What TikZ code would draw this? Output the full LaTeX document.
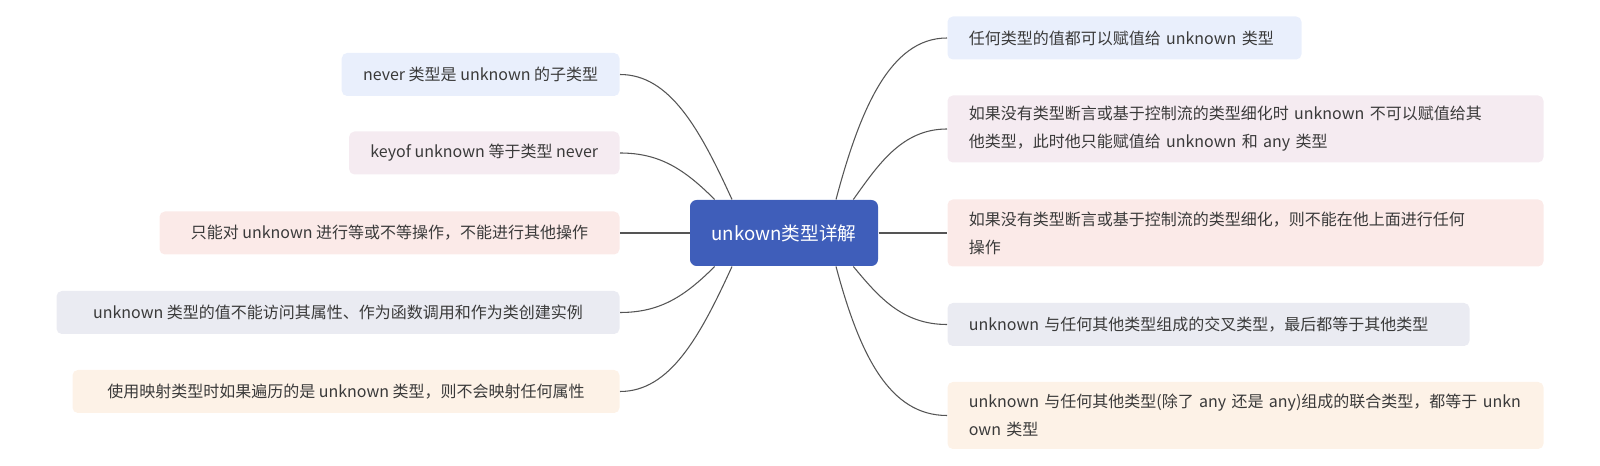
\documentclass[tikz,border=0pt]{standalone}
\usepackage{fontspec}
\newfontfamily\cjk{Noto Sans CJK SC}
\definecolor{rootblue}{HTML}{3F5EBA}
\definecolor{boxblue}{HTML}{E9EFFC}
\definecolor{boxpink}{HTML}{F5EBF1}
\definecolor{boxrose}{HTML}{FBEAE8}
\definecolor{boxgrey}{HTML}{EAEBF2}
\definecolor{boxpeach}{HTML}{FDF2E7}
\definecolor{txtgrey}{HTML}{3A3A3A}
\definecolor{linegrey}{HTML}{555555}
\tikzset{every picture/.style={line width=0.75pt}}
\tikzset{
  topic/.style={rounded corners=4pt, inner xsep=16pt, inner ysep=0pt, text=txtgrey,
    font=\cjk\fontsize{12pt}{21pt}\selectfont, minimum height=32.25pt},
  lefttopic/.style={topic, anchor=east, align=right},
  righttopic/.style={topic, anchor=west, align=left},
  tall/.style={minimum height=50.25pt},
  branch/.style={draw=linegrey, line width=0.8pt},
}

\begin{document}
\begin{tikzpicture}[x=0.75pt,y=0.75pt,yscale=-1,xscale=1]
\useasboundingbox (0,0) rectangle (1600,466);
% Central Topic
\draw (784,233) node [fill=rootblue, rounded corners=5pt, minimum width=141pt, minimum height=49.5pt, text=white, font=\cjk\fontsize{14pt}{16pt}\selectfont] (root) {unkown类型详解};
% Text Node
\draw (620,74.5) node [lefttopic, fill=boxblue, minimum width=207pt] (nev) {never 类型是 unknown 的子类型};
% Text Node
\draw (620,153) node [lefttopic, fill=boxpink, minimum width=193.5pt] (keyof) {keyof unknown 等于类型 never};
% Text Node
\draw (620,233) node [lefttopic, fill=boxrose, minimum width=345pt] (eq) {只能对 unknown 进行等或不等操作，不能进行其他操作};
% Text Node
\draw (620,312.5) node [lefttopic, fill=boxgrey, minimum width=422.25pt] (prop) {unknown 类型的值不能访问其属性、作为函数调用和作为类创建实例};
% Text Node
\draw (620,391.5) node [lefttopic, fill=boxpeach, minimum width=410.25pt] (mapped) {使用映射类型时如果遍历的是 unknown 类型，则不会映射任何属性};
% Text Node
\draw (947,38) node [righttopic, fill=boxblue, text width=233.5pt] (any) {\mbox{任何类型的值都可以赋值给 unknown 类型}};
% Text Node
\draw (947,129) node [righttopic, tall, fill=boxpink, text width=415pt] (assign) {\mbox{如果没有类型断言或基于控制流的类型细化时 unknown 不可以赋值给其}\\\mbox{他类型，此时他只能赋值给 unknown 和 any 类型}};
% Text Node
\draw (947,233) node [righttopic, tall, fill=boxrose, text width=415pt] (ops) {\mbox{如果没有类型断言或基于控制流的类型细化，则不能在他上面进行任何}\\操作};
% Text Node
\draw (947,324.5) node [righttopic, fill=boxgrey, text width=359.5pt] (inter) {\mbox{unknown 与任何其他类型组成的交叉类型，最后都等于其他类型}};
% Text Node
\draw (947,415.5) node [righttopic, tall, fill=boxpeach, text width=415pt] (union) {\mbox{unknown 与任何其他类型(除了 any 还是 any)组成的联合类型，都等于 unkn}\\\mbox{own 类型}};

%Curve Lines
\draw [branch] ([xshift=-39pt]root.north) .. controls +(-32,-70) and +(50,0) .. (nev.east);
%Curve Lines
\draw [branch] ([xshift=-52pt]root.north) .. controls +(-30,-30) and +(40,0) .. (keyof.east);
%Straight Lines
\draw [branch] (root.west) -- (eq.east);
%Curve Lines
\draw [branch] ([xshift=-52pt]root.south) .. controls +(-30,30) and +(40,0) .. (prop.east);
%Curve Lines
\draw [branch] ([xshift=-39pt]root.south) .. controls +(-32,70) and +(50,0) .. (mapped.east);
%Curve Lines
\draw [branch] ([xshift=39pt]root.north) .. controls +(24,-90) and +(-57,0) .. (any.west);
%Curve Lines
\draw [branch] ([xshift=52pt]root.north) .. controls +(25,-35) and +(-45,0) .. (assign.west);
%Straight Lines
\draw [branch] (root.east) -- (ops.west);
%Curve Lines
\draw [branch] ([xshift=52pt]root.south) .. controls +(25,30) and +(-45,0) .. (inter.west);
%Curve Lines
\draw [branch] ([xshift=39pt]root.south) .. controls +(24,90) and +(-57,0) .. (union.west);
\end{tikzpicture}
\end{document}
